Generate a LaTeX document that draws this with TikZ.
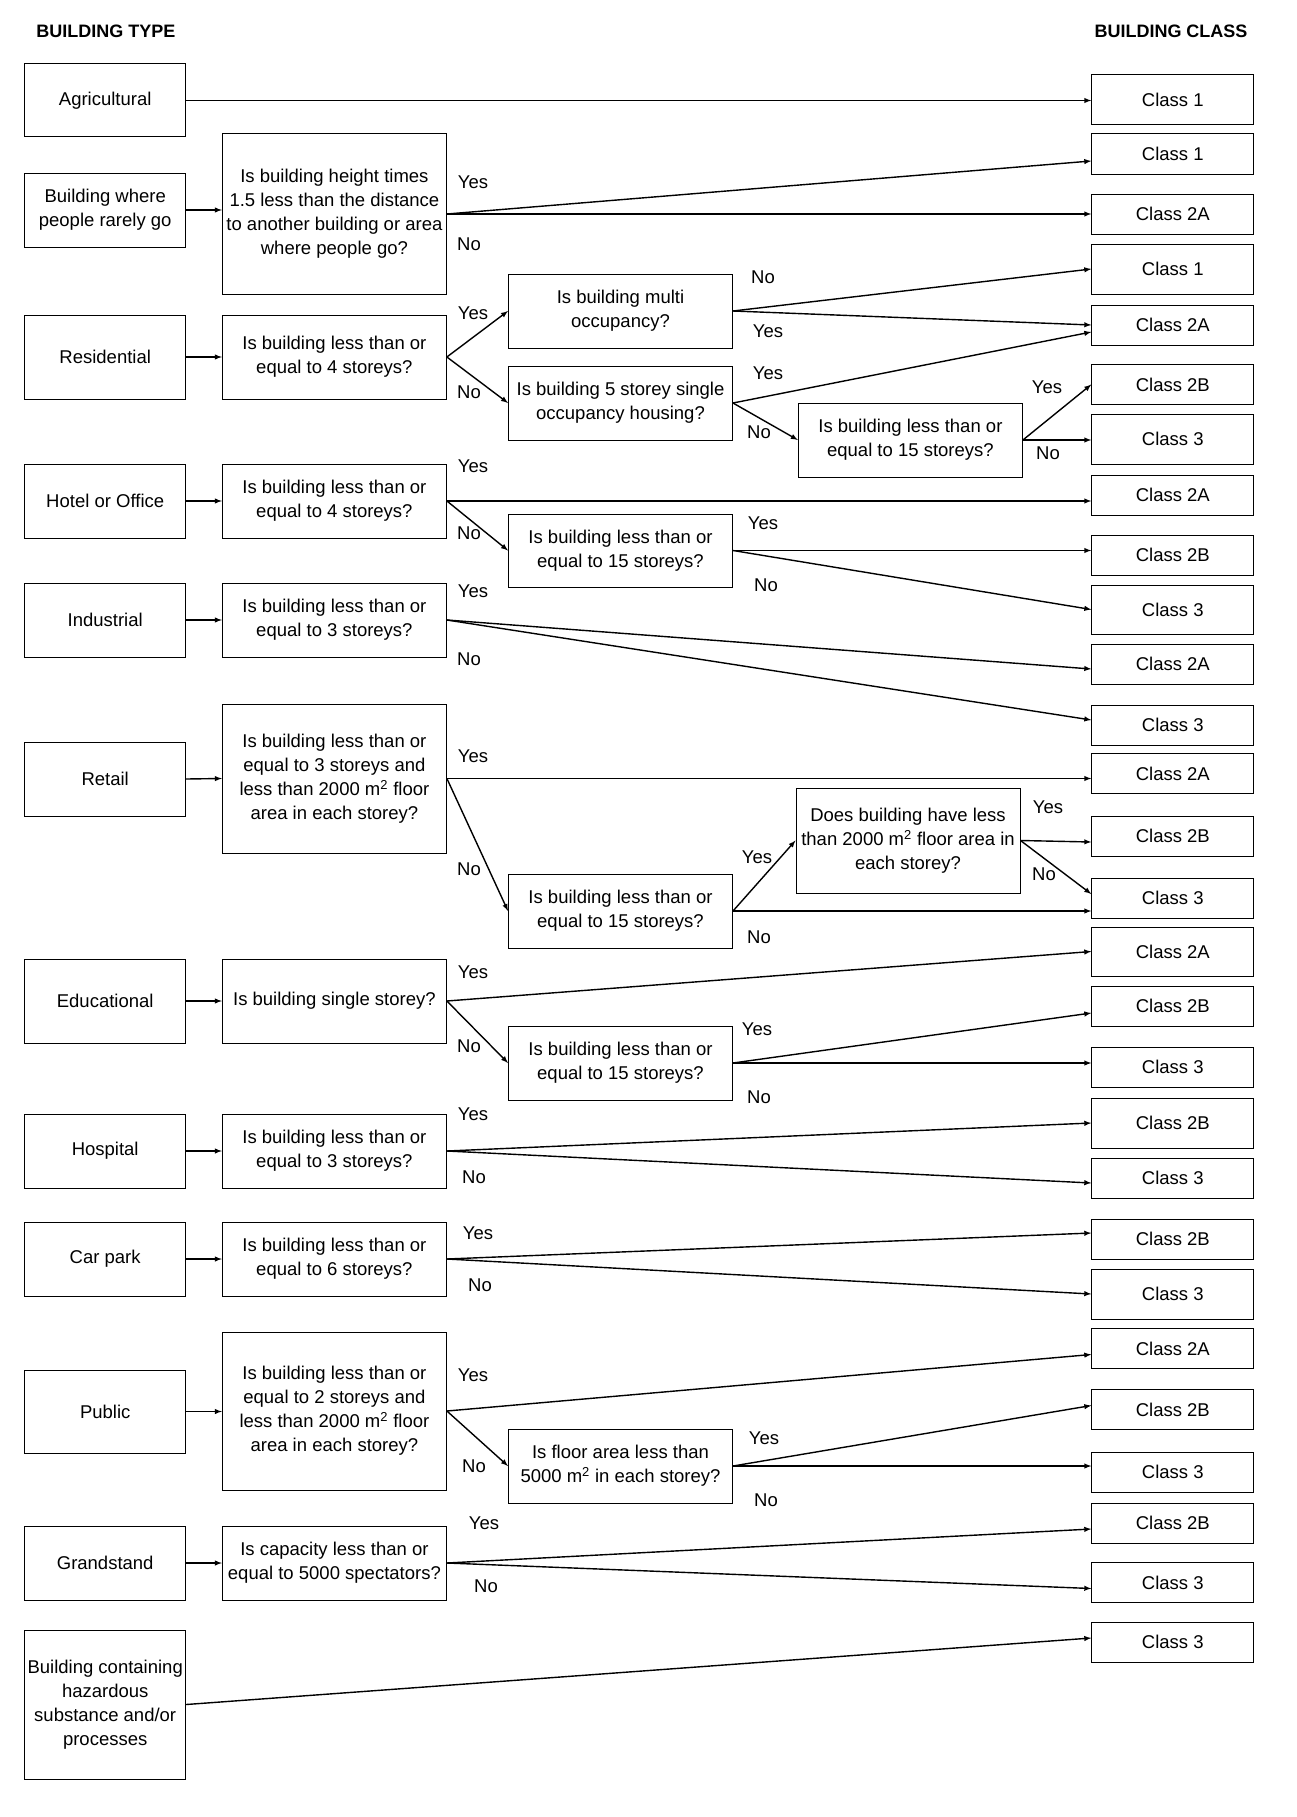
\documentclass[tikz,border=0pt]{standalone}
\usepackage{fontspec}
\setmainfont{Liberation Sans}
\usepackage{tikz}

\begin{document}
\begin{tikzpicture}[x=1pt,y=-1pt,>=latex,
  every node/.style={font=\fontsize{18.5}{24}\selectfont},
  typeBox/.style={draw,line width=1pt,minimum width=161pt,inner sep=0pt,align=center},
  askBox/.style={draw,line width=1pt,minimum width=224pt,inner sep=0pt,align=center},
  classBox/.style={draw,line width=1pt,minimum width=162pt,minimum height=40pt,inner sep=0pt},
  flow/.style={->,line width=1.4pt},
  ans/.style={inner sep=0pt}]
\useasboundingbox (0,0) rectangle (1297,1817);
\node[font=\bfseries\fontsize{18}{22}\selectfont] (typeTitle) at (106,31) {BUILDING TYPE};
\node[font=\bfseries\fontsize{18}{22}\selectfont] (classTitle) at (1171,31) {BUILDING CLASS};
\node[typeBox,minimum height=73pt] (agricultural) at (105.2,100.5) {Agricultural};
\node[typeBox,minimum height=74pt] (rarelyGo) at (105.2,210) {Building where\\people rarely go};
\node[typeBox,minimum height=84pt] (residential) at (105.2,357) {Residential};
\node[typeBox,minimum height=74pt] (hotelOffice) at (105.2,501) {Hotel or Office};
\node[typeBox,minimum height=74pt] (industrial) at (105.2,620) {Industrial};
\node[typeBox,minimum height=74pt] (retail) at (105.2,779) {Retail};
\node[typeBox,minimum height=84pt] (educational) at (105.2,1001) {Educational};
\node[typeBox,minimum height=74pt] (hospital) at (105.2,1151) {Hospital};
\node[typeBox,minimum height=74pt] (carPark) at (105.2,1259) {Car park};
\node[typeBox,minimum height=83pt] (public) at (105.2,1411.5) {Public};
\node[typeBox,minimum height=74pt] (grandstand) at (105.2,1563) {Grandstand};
\node[typeBox,minimum height=149pt] (hazardous) at (105.2,1704.5) {Building containing\\hazardous\\substance and/or\\processes};
\node[askBox,minimum height=160pt] (heightQ) at (334.4,214) {Is building height times\\1.5 less than the distance\\to another building or area\\where people go?};
\node[askBox,minimum height=84pt] (resQ) at (334.4,357) {Is building less than or\\equal to 4 storeys?};
\node[askBox,minimum height=74pt] (hotelQ) at (334.4,501) {Is building less than or\\equal to 4 storeys?};
\node[askBox,minimum height=74pt] (industrialQ) at (334.4,620) {Is building less than or\\equal to 3 storeys?};
\node[askBox,minimum height=149pt] (retailQ) at (334.4,778.5) {Is building less than or\\equal to 3 storeys and\\less than 2000 m\textsuperscript{2} floor\\area in each storey?};
\node[askBox,minimum height=84pt] (eduQ) at (334.4,1001) {Is building single storey?};
\node[askBox,minimum height=74pt] (hospitalQ) at (334.4,1151) {Is building less than or\\equal to 3 storeys?};
\node[askBox,minimum height=74pt] (carQ) at (334.4,1259) {Is building less than or\\equal to 6 storeys?};
\node[askBox,minimum height=158pt] (publicQ) at (334.4,1411) {Is building less than or\\equal to 2 storeys and\\less than 2000 m\textsuperscript{2} floor\\area in each storey?};
\node[askBox,minimum height=74pt] (grandQ) at (334.4,1563) {Is capacity less than or\\equal to 5000 spectators?};
\node[askBox,minimum height=74pt] (multiQ) at (620.5,311) {Is building multi\\occupancy?};
\node[askBox,minimum height=74pt] (singleQ) at (620.5,403) {Is building 5 storey single\\occupancy housing?};
\node[askBox,minimum height=73pt] (hotelFifteenQ) at (620.5,550.5) {Is building less than or\\equal to 15 storeys?};
\node[askBox,minimum height=74pt] (retailFifteenQ) at (620.5,911) {Is building less than or\\equal to 15 storeys?};
\node[askBox,minimum height=74pt] (eduFifteenQ) at (620.5,1063) {Is building less than or\\equal to 15 storeys?};
\node[askBox,minimum height=74pt] (floorQ) at (620.5,1466) {Is floor area less than\\5000 m\textsuperscript{2} in each storey?};
\node[askBox,minimum height=74pt] (resFifteenQ) at (910.4,440) {Is building less than or\\equal to 15 storeys?};
\node[askBox,minimum height=105pt] (areaQ) at (908,840.5) {Does building have less\\than 2000 m\textsuperscript{2} floor area in\\each storey?};
\node[classBox,minimum height=50pt] (class1) at (1172.8,100) {Class 1};
\node[classBox] (class2) at (1172.8,154) {Class 1};
\node[classBox] (class3) at (1172.8,214) {Class 2A};
\node[classBox,minimum height=50pt] (class4) at (1172.8,269) {Class 1};
\node[classBox] (class5) at (1172.8,325) {Class 2A};
\node[classBox] (class6) at (1172.8,384.5) {Class 2B};
\node[classBox,minimum height=50pt] (class7) at (1172.8,439) {Class 3};
\node[classBox] (class8) at (1172.8,495) {Class 2A};
\node[classBox] (class9) at (1172.8,555) {Class 2B};
\node[classBox,minimum height=49pt] (class10) at (1172.8,609.5) {Class 3};
\node[classBox] (class11) at (1172.8,664) {Class 2A};
\node[classBox] (class12) at (1172.8,725) {Class 3};
\node[classBox] (class13) at (1172.8,773.5) {Class 2A};
\node[classBox] (class14) at (1172.8,836) {Class 2B};
\node[classBox] (class15) at (1172.8,898) {Class 3};
\node[classBox,minimum height=49pt] (class16) at (1172.8,951.5) {Class 2A};
\node[classBox] (class17) at (1172.8,1006) {Class 2B};
\node[classBox] (class18) at (1172.8,1067) {Class 3};
\node[classBox,minimum height=50pt] (class19) at (1172.8,1123) {Class 2B};
\node[classBox] (class20) at (1172.8,1178) {Class 3};
\node[classBox] (class21) at (1172.8,1239) {Class 2B};
\node[classBox,minimum height=50pt] (class22) at (1172.8,1294) {Class 3};
\node[classBox] (class23) at (1172.8,1348.5) {Class 2A};
\node[classBox] (class24) at (1172.8,1409.5) {Class 2B};
\node[classBox] (class25) at (1172.8,1472) {Class 3};
\node[classBox] (class26) at (1172.8,1523) {Class 2B};
\node[classBox] (class27) at (1172.8,1582.5) {Class 3};
\node[classBox] (class28) at (1172.8,1642) {Class 3};
\draw[flow] (agricultural.east) -- (agricultural.east -| class1.west);
\draw[flow] (rarelyGo.east) -- (rarelyGo.east -| heightQ.west);
\draw[flow] (heightQ.east) -- ([yshift=-7pt]class2.west);
\draw[flow] (heightQ.east) -- (heightQ.east -| class3.west);
\draw[flow] (residential.east) -- (resQ.west);
\draw[flow] (resQ.east) -- (multiQ.west);
\draw[flow] (resQ.east) -- (singleQ.west);
\draw[flow] (multiQ.east) -- (class4.west);
\draw[flow] (multiQ.east) -- (class5.west);
\draw[flow] (singleQ.east) -- ([yshift=-7pt]class5.west);
\draw[flow] (singleQ.east) -- (resFifteenQ.west);
\draw[flow] (resFifteenQ.east) -- (class6.west);
\draw[flow] (resFifteenQ.east) -- (resFifteenQ.east -| class7.west);
\draw[flow] (hotelOffice.east) -- (hotelQ.west);
\draw[flow] (hotelQ.east) -- (hotelQ.east -| class8.west);
\draw[flow] (hotelQ.east) -- (hotelFifteenQ.west);
\draw[flow] (hotelFifteenQ.east) -- (hotelFifteenQ.east -| class9.west);
\draw[flow] (hotelFifteenQ.east) -- (class10.west);
\draw[flow] (industrial.east) -- (industrialQ.west);
\draw[flow] (industrialQ.east) -- ([yshift=-5pt]class11.west);
\draw[flow] (industrialQ.east) -- ([yshift=5pt]class12.west);
\draw[flow] (retail.east) -- (retailQ.west);
\draw[flow] (retailQ.east) -- (retailQ.east -| class13.west);
\draw[flow] (retailQ.east) -- (retailFifteenQ.west);
\draw[flow] (retailFifteenQ.east) -- (areaQ.west);
\draw[flow] (retailFifteenQ.east) -- (retailFifteenQ.east -| class15.west);
\draw[flow] (areaQ.east) -- ([yshift=-6pt]class14.west);
\draw[flow] (areaQ.east) -- ([yshift=4pt]class15.west);
\draw[flow] (educational.east) -- (eduQ.west);
\draw[flow] (eduQ.east) -- (class16.west);
\draw[flow] (eduQ.east) -- (eduFifteenQ.west);
\draw[flow] (eduFifteenQ.east) -- ([yshift=-7pt]class17.west);
\draw[flow] (eduFifteenQ.east) -- (eduFifteenQ.east -| class18.west);
\draw[flow] (hospital.east) -- (hospitalQ.west);
\draw[flow] (hospitalQ.east) -- (class19.west);
\draw[flow] (hospitalQ.east) -- ([yshift=-5pt]class20.west);
\draw[flow] (carPark.east) -- (carQ.west);
\draw[flow] (carQ.east) -- ([yshift=6pt]class21.west);
\draw[flow] (carQ.east) -- (class22.west);
\draw[flow] (public.east) -- (public.east -| publicQ.west);
\draw[flow] (publicQ.east) -- ([yshift=-6pt]class23.west);
\draw[flow] (publicQ.east) -- (floorQ.west);
\draw[flow] (floorQ.east) -- ([yshift=4pt]class24.west);
\draw[flow] (floorQ.east) -- (floorQ.east -| class25.west);
\draw[flow] (grandstand.east) -- (grandQ.west);
\draw[flow] (grandQ.east) -- ([yshift=-6pt]class26.west);
\draw[flow] (grandQ.east) -- ([yshift=-6pt]class27.west);
\draw[flow] (hazardous.east) -- ([yshift=4pt]class28.west);
\node[ans] (heightYes) at (473,182) {Yes};
\node[ans] (heightNo) at (469,244) {No};
\node[ans] (resYes) at (473,313) {Yes};
\node[ans] (resNo) at (469,392) {No};
\node[ans] (multiNo) at (763,277) {No};
\node[ans] (multiYes) at (768,331) {Yes};
\node[ans] (singleYes) at (768,373) {Yes};
\node[ans] (singleNo) at (759,432) {No};
\node[ans] (resFifteenYes) at (1047,387) {Yes};
\node[ans] (resFifteenNo) at (1048,453) {No};
\node[ans] (hotelYes) at (473,466) {Yes};
\node[ans] (hotelNo) at (469,533) {No};
\node[ans] (hotelFifteenYes) at (763,523) {Yes};
\node[ans] (hotelFifteenNo) at (766,585) {No};
\node[ans] (industrialYes) at (473,591) {Yes};
\node[ans] (industrialNo) at (469,659) {No};
\node[ans] (retailYes) at (473,756) {Yes};
\node[ans] (retailNo) at (469,869) {No};
\node[ans] (retailFifteenYes) at (757,857) {Yes};
\node[ans] (retailFifteenNo) at (759,937) {No};
\node[ans] (areaYes) at (1048,807) {Yes};
\node[ans] (areaNo) at (1044,874) {No};
\node[ans] (eduYes) at (473,972) {Yes};
\node[ans] (eduNo) at (469,1046) {No};
\node[ans] (eduFifteenYes) at (757,1029) {Yes};
\node[ans] (eduFifteenNo) at (759,1097) {No};
\node[ans] (hospitalYes) at (473,1114) {Yes};
\node[ans] (hospitalNo) at (474,1177) {No};
\node[ans] (carYes) at (478,1233) {Yes};
\node[ans] (carNo) at (480,1285) {No};
\node[ans] (publicYes) at (473,1375) {Yes};
\node[ans] (publicNo) at (474,1466) {No};
\node[ans] (floorYes) at (764,1438) {Yes};
\node[ans] (floorNo) at (766,1500) {No};
\node[ans] (grandYes) at (484,1523) {Yes};
\node[ans] (grandNo) at (486,1586) {No};
\end{tikzpicture}
\end{document}
